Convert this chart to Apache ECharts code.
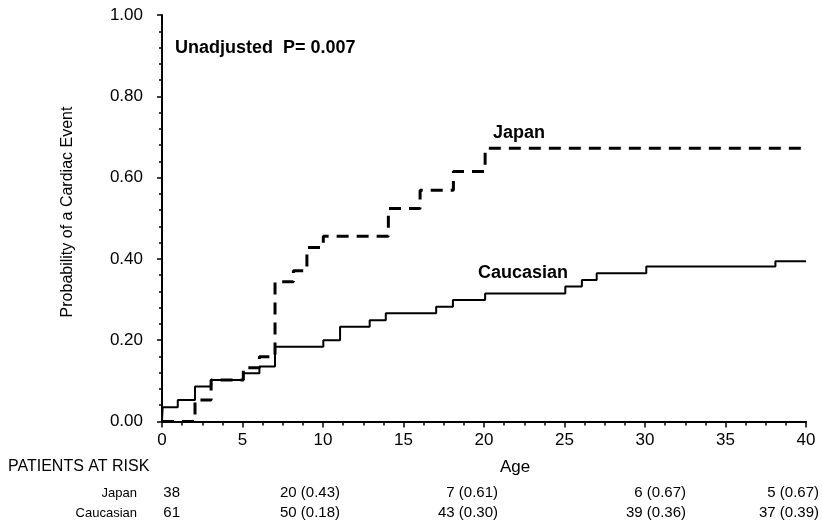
<!DOCTYPE html>
<html>
<head>
<meta charset="utf-8">
<script src="https://cdn.jsdelivr.net/npm/echarts@6/dist/echarts.min.js"></script>
<style>
html,body{margin:0;padding:0;background:#fff;}
#chart{width:822px;height:526px;}
</style>
</head>
<body>
<div id="chart"></div>
<script>
// ---- data ----
var japanSteps = [[0,0],[2.05,0.053],[3.05,0.102],[5.05,0.132],[6.05,0.159],[7.02,0.344],[8.16,0.371],[9.0,0.428],[10.02,0.456],[14.06,0.524],[16.03,0.569],[18.1,0.615],[20.07,0.672],[40,0.672]];
var caucasianSteps = [[0,0],[0.04,0.035],[0.98,0.053],[2.05,0.086],[3.05,0.102],[5.05,0.119],[6.05,0.135],[7.02,0.184],[10.02,0.2],[11.06,0.233],[12.9,0.249],[13.9,0.266],[17.03,0.282],[18.07,0.299],[20.07,0.315],[25.05,0.332],[26.08,0.348],[27.0,0.365],[30.08,0.381],[38.1,0.394],[40,0.394]];
var riskGroups = ['Japan', 'Caucasian'];
var japanRisk = ['38', '20 (0.43)', '7 (0.61)', '6 (0.67)', '5 (0.67)'];
var caucasianRisk = ['61', '50 (0.18)', '43 (0.30)', '39 (0.36)', '37 (0.39)'];
var pValueText = 'Unadjusted  P= 0.007';

// ---- layout (not data) ----
var riskRight = [180, 340, 498, 686, 819];
var riskRowsY = [493, 513];

var chart = echarts.init(document.getElementById('chart'), null, {renderer: 'canvas'});
var txtFont = '"Liberation Sans", Arial, sans-serif';

var graphics = [
  {type:'text', left: 8, top: 459, style:{text:'PATIENTS AT RISK', font:'16px ' + txtFont, fill:'#000'}},
  {type:'text', x: 515, y: 467, style:{text:'Age', font:'17px ' + txtFont, fill:'#000', textAlign:'center', textVerticalAlign:'middle'}},
  {type:'text', x: 68, y: 212, rotation: Math.PI/2, style:{text:'Probability of a Cardiac Event', font:'16px ' + txtFont, fill:'#000', textAlign:'center', textVerticalAlign:'middle'}},
  {type:'text', x: 175, y: 48, style:{text:pValueText, font:'bold 18px ' + txtFont, fill:'#000', textAlign:'left', textVerticalAlign:'middle'}},
  {type:'text', x: 493, y: 133, style:{text:'Japan', font:'bold 18px ' + txtFont, fill:'#000', textAlign:'left', textVerticalAlign:'middle'}},
  {type:'text', x: 478, y: 273, style:{text:'Caucasian', font:'bold 18px ' + txtFont, fill:'#000', textAlign:'left', textVerticalAlign:'middle'}}
];
var rows = [japanRisk, caucasianRisk];
for (var r = 0; r < rows.length; r++) {
  graphics.push({type:'text', x: 137, y: riskRowsY[r], style:{text: riskGroups[r], font:'13px ' + txtFont, fill:'#000', textAlign:'right', textVerticalAlign:'middle'}});
  for (var c = 0; c < rows[r].length; c++) {
    graphics.push({type:'text', x: riskRight[c], y: riskRowsY[r], style:{text: rows[r][c], font:'15px ' + txtFont, fill:'#000', textAlign:'right', textVerticalAlign:'middle'}});
  }
}

var option = {
  backgroundColor: '#fff',
  animation: false,
  grid: {left: 162, right: 16, top: 15, bottom: 104.5, containLabel: false},
  xAxis: {
    type: 'value', min: 0, max: 40, interval: 5, offset: 3,
    axisLine: {show: true, lineStyle: {color: '#000', width: 2}},
    axisTick: {show: true, length: 6, lineStyle: {color: '#000', width: 1.5}},
    minorTick: {show: true, splitNumber: 4, length: 4, lineStyle: {color: '#000', width: 1.5}},
    splitLine: {show: false},
    axisLabel: {color: '#000', fontSize: 17, fontFamily: '"Liberation Sans Narrow", "Liberation Sans", Arial, sans-serif', margin: 7}
  },
  yAxis: {
    type: 'value', min: 0, max: 1, interval: 0.2, offset: 8,
    axisLine: {show: true, lineStyle: {color: '#000', width: 2}},
    axisTick: {show: true, length: 5, lineStyle: {color: '#000', width: 1.5}},
    minorTick: {show: true, splitNumber: 5, length: 3, lineStyle: {color: '#000', width: 1.5}},
    splitLine: {show: false},
    axisLabel: {color: '#000', fontSize: 17, fontFamily: txtFont, margin: 11, formatter: function(v){ return v.toFixed(2); }}
  },
  series: [
    {name: 'Japan', type: 'line', step: 'end', data: japanSteps, showSymbol: false, symbol: 'none', clip: false,
     lineStyle: {color: '#000', width: 3, type: [12, 8]}},
    {name: 'Caucasian', type: 'line', step: 'end', data: caucasianSteps, showSymbol: false, symbol: 'none', clip: false,
     lineStyle: {color: '#000', width: 2, type: 'solid'}}
  ],
  graphic: graphics
};
chart.setOption(option);
</script>
</body>
</html>
